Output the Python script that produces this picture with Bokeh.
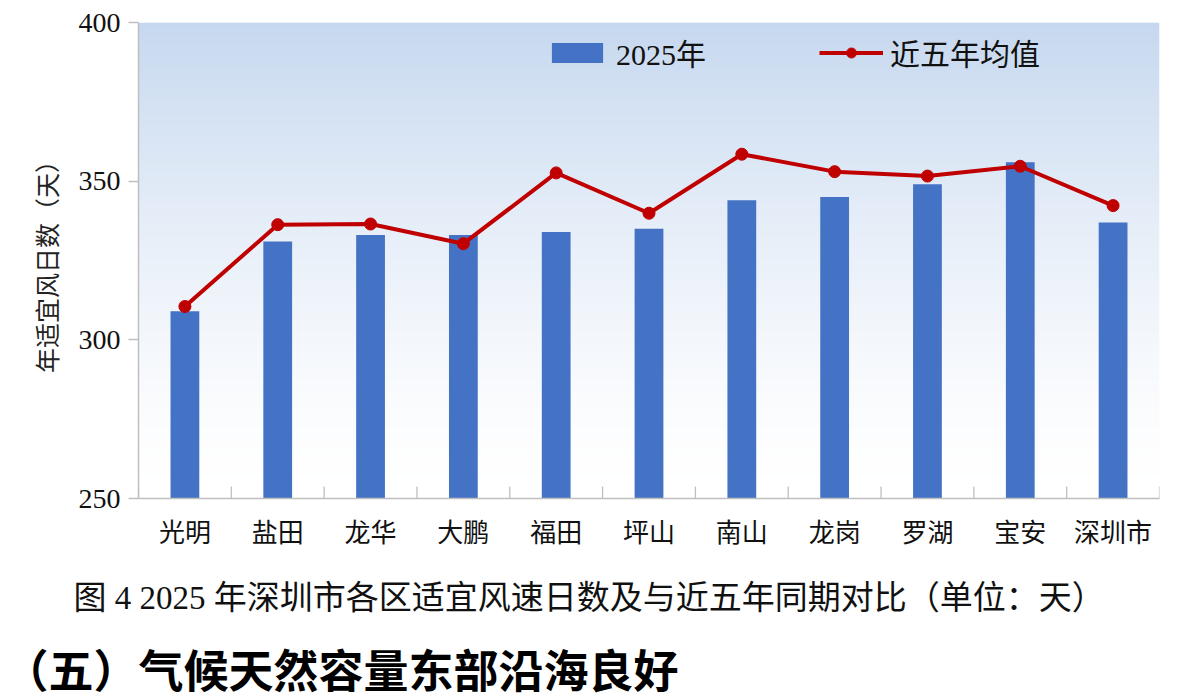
import numpy as np
from bokeh.plotting import figure
from bokeh.models import (Range1d, FixedTicker, Legend, LegendItem, Title, ColumnDataSource)
from bokeh.embed import file_html
from bokeh.resources import INLINE

districts = ["光明", "盐田", "龙华", "大鹏", "福田", "坪山", "南山", "龙岗", "罗湖", "宝安", "深圳市"]
days_2025 = [309, 331, 333, 333, 334, 335, 344, 345, 349, 356, 337]
avg_5yr = [310.5, 336.3, 336.5, 330.3, 352.6, 339.9, 358.5, 353.0, 351.6, 354.7, 342.3]
y_ticks = [250, 300, 350, 400]
series_names = ["2025年", "近五年均值"]
caption = "图 4 2025 年深圳市各区适宜风速日数及与近五年同期对比（单位：天）"
heading = "（五）气候天然容量东部沿海良好"

idx = list(range(len(districts)))
serif = "Liberation Serif, Noto Sans CJK SC"
head_font = "Liberation Sans, Noto Sans CJK SC"

p = figure(width=1194, height=700, output_backend="svg", toolbar_location=None,
           x_range=Range1d(-0.5, len(districts) - 0.5), y_range=Range1d(250, 400),
           min_border_left=138, min_border_right=35, min_border_top=22,
           min_border_bottom=202)
p.outline_line_color = None
p.grid.visible = False
p.background_fill_color = "white"
p.border_fill_color = "white"

# gradient background (decoration)
n = 200
t = np.linspace(0, 1, n)  # 0 bottom -> 1 top
w = t ** 1.45
top_rgb = np.array([198, 216, 239])
img = np.zeros((n, 1), dtype=np.uint32)
view = img.view(dtype=np.uint8).reshape((n, 1, 4))
for i in range(n):
    c = 255 - (255 - top_rgb) * w[i]
    view[i, 0, 0] = int(round(c[0]))
    view[i, 0, 1] = int(round(c[1]))
    view[i, 0, 2] = int(round(c[2]))
    view[i, 0, 3] = 255
p.image_rgba(image=[img], x=-0.5, y=250, dw=len(districts), dh=150, level="image")

src = ColumnDataSource(dict(x=idx, bars=days_2025, avg=avg_5yr))
bar_r = p.vbar(x="x", top="bars", bottom=250, width=0.31, source=src,
               fill_color="#4472C4", line_color=None)
line_r = p.line(x="x", y="avg", source=src, line_color="#C00000", line_width=4)
dot_r = p.scatter(x="x", y="avg", source=src, size=12, fill_color="#C00000", line_color="#C00000")

# category separator ticks along the bottom axis
sep = [i - 0.5 for i in range(len(districts) + 1)]
p.segment(x0=sep, x1=sep, y0=[250] * len(sep), y1=[253.8] * len(sep),
          line_color="#BFBFBF", line_width=1.3)

# axes
xa = p.xaxis[0]
xa.ticker = FixedTicker(ticks=idx)
xa.major_label_overrides = {i: d for i, d in zip(idx, districts)}
xa.major_tick_line_color = None
xa.minor_tick_line_color = None
xa.axis_line_color = "#BFBFBF"
xa.axis_line_width = 1.5
xa.major_label_text_font = serif
xa.major_label_text_font_size = "26px"
xa.major_label_text_color = "#111111"
xa.major_label_standoff = 14

ya = p.yaxis[0]
ya.ticker = FixedTicker(ticks=y_ticks)
ya.axis_line_color = "#BFBFBF"
ya.axis_line_width = 1.5
ya.major_tick_line_color = "#BFBFBF"
ya.major_tick_line_width = 1.5
ya.major_tick_out = 10
ya.major_tick_in = 0
ya.minor_tick_line_color = None
ya.major_label_text_font = serif
ya.major_label_text_font_size = "28px"
ya.major_label_text_color = "#111111"
ya.major_label_standoff = 8
ya.axis_label = "年适宜风日数（天）"
ya.axis_label_text_font = serif
ya.axis_label_text_font_size = "25px"
ya.axis_label_text_font_style = "normal"
ya.axis_label_text_color = "#222222"
ya.axis_label_standoff = 14

legend = Legend(items=[LegendItem(label=series_names[0], renderers=[bar_r]),
                       LegendItem(label=series_names[1], renderers=[line_r, dot_r])],
                orientation="horizontal", location=(407, 424),
                glyph_width=64, glyph_height=25, label_standoff=7, spacing=113,
                label_text_font=serif, label_text_font_size="30px", label_text_color="#111111",
                background_fill_alpha=0, border_line_color=None, padding=4, margin=0)
p.add_layout(legend, "center")

# caption + section heading as titles below the plot (not clipped to the frame)
cap = Title(text=caption, align="left", offset=-65, standoff=55,
            text_font=serif, text_font_size="33px", text_font_style="normal",
            text_color="#111111")
head = Title(text=heading, align="left", offset=-135, standoff=3,
             text_font=head_font, text_font_size="45px", text_font_style="bold",
             text_color="#000000")
p.add_layout(cap, "below")
p.add_layout(head, "below")

open("out.html", "w").write(file_html(p, INLINE))
